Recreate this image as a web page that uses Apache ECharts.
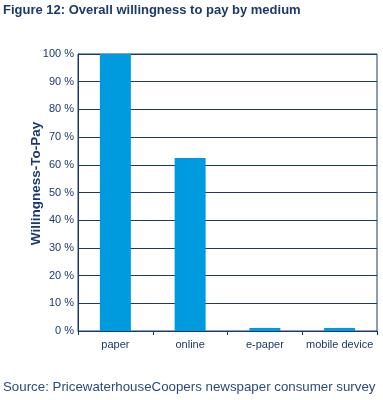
<!DOCTYPE html>
<html><head><meta charset="utf-8">
<script src="https://cdn.jsdelivr.net/npm/echarts@6/dist/echarts.min.js"></script>
<style>html,body{margin:0;padding:0;background:#fff}#c{width:383px;height:400px}</style>
</head><body><div id="c"></div>
<script>
const categories = ['paper', 'online', 'e-paper', 'mobile device'];
const values = [100, 62.5, 1.1, 1.1];
const yTicks = [0, 10, 20, 30, 40, 50, 60, 70, 80, 90, 100];

const navy = '#1b3a6b';
const chart = echarts.init(document.getElementById('c'), null, {renderer: 'canvas'});
chart.setOption({
  animation: false,
  textStyle: {fontFamily: 'Liberation Sans, Arial, sans-serif'},
  title: [{
    text: 'Figure 12: Overall willingness to pay by medium',
    left: 3, top: 4, padding: 0,
    textStyle: {fontSize: 13, fontWeight: 'bold', color: navy, fontFamily: 'Liberation Sans, Arial, sans-serif'}
  }, {
    text: 'Source: PricewaterhouseCoopers newspaper consumer survey',
    left: 3, top: 381, padding: 0,
    textStyle: {fontSize: 13.3, fontWeight: 'normal', color: '#2b4a7c', fontFamily: 'Liberation Sans, Arial, sans-serif'}
  }],
  grid: {left: 78, right: 6, top: 54, bottom: 69, show: true, borderColor: navy, borderWidth: 1, backgroundColor: 'transparent'},
  xAxis: {
    type: 'category', data: categories,
    axisLine: {lineStyle: {color: navy, width: 1}},
    axisTick: {show: true, length: 4, lineStyle: {color: navy}},
    axisLabel: {color: navy, fontSize: 11, margin: 8, interval: 0}
  },
  yAxis: {
    type: 'value', min: yTicks[0], max: yTicks[yTicks.length - 1], interval: 10,
    name: 'Willingness-To-Pay', nameLocation: 'middle', nameGap: 35, nameRotate: 90,
    nameMoveOverlap: false,
    nameTextStyle: {color: navy, fontSize: 13.5, fontWeight: 'bold', padding: [0, 0, 0, 18]},
    axisLine: {show: true, lineStyle: {color: navy, width: 1}},
    axisTick: {show: false},
    axisLabel: {color: navy, fontSize: 11, margin: 4, formatter: v => v + ' %'},
    splitLine: {lineStyle: {color: navy, width: 1}}
  },
  series: [{
    type: 'bar', data: values, barWidth: 31,
    itemStyle: {color: '#009ade'}
  }]
});
</script></body></html>
